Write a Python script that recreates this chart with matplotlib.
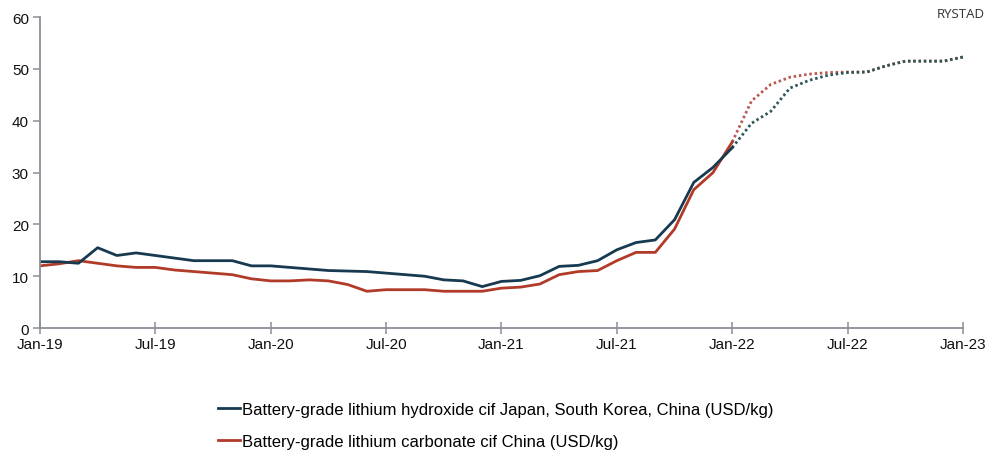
import matplotlib
matplotlib.use("Agg")
import matplotlib.pyplot as plt

plt.rcParams['font.family'] = ['Liberation Sans', 'DejaVu Sans']

# Month index 0 = Jan-19 ... 48 = Jan-23
tick_labels = ["Jan-19", "Jul-19", "Jan-20", "Jul-20", "Jan-21",
               "Jul-21", "Jan-22", "Jul-22", "Jan-23"]

# Historical prices, Jan-19 .. Jan-22 (USD/kg)
hydroxide_hist = [12.8, 12.8, 12.5, 15.5, 14.0, 14.5, 14.0, 13.5, 13.0, 13.0, 13.0, 12.0,
                  12.0, 11.7, 11.4, 11.1, 11.0, 10.9, 10.6, 10.3, 10.0, 9.3, 9.1, 8.0,
                  9.0, 9.2, 10.1, 11.9, 12.1, 13.0, 15.1, 16.5, 17.0, 20.9, 28.1, 31.0,
                  34.8]
carbonate_hist = [12.0, 12.4, 13.0, 12.5, 12.0, 11.7, 11.7, 11.2, 10.9, 10.6, 10.3, 9.5,
                  9.1, 9.1, 9.3, 9.1, 8.4, 7.1, 7.4, 7.4, 7.4, 7.1, 7.1, 7.1,
                  7.7, 7.9, 8.5, 10.3, 10.9, 11.1, 13.0, 14.6, 14.6, 19.1, 26.7, 30.0,
                  35.9]

# Forecast, Jan-22 .. Jan-23 (USD/kg)
hydroxide_fc = [34.8, 39.5, 41.8, 46.3, 47.8, 48.8, 49.3, 49.4, 50.6, 51.5, 51.5, 51.5, 52.3]
carbonate_fc = [35.9, 43.8, 47.0, 48.4, 49.0, 49.3, 49.4, 49.4, 50.6, 51.5, 51.5, 51.5, 52.3]

hist_x = list(range(len(hydroxide_hist)))
fc_x = list(range(len(hydroxide_hist) - 1, len(hydroxide_hist) - 1 + len(hydroxide_fc)))

blue = "#173a50"
red = "#b13b28"
blue_dot = "#2c5658"
red_dot = "#b85a52"
axis_grey = "#8a9096"

fig = plt.figure(figsize=(9.89, 4.52), dpi=100)
ax = fig.add_axes([0.0404, 0.272, 0.9333, 0.688])

dots = (0, (0.9, 1.0))
ax.plot(fc_x, carbonate_fc, color=red_dot, lw=2.0, linestyle=dots)
ax.plot(fc_x, hydroxide_fc, color=blue_dot, lw=2.0, linestyle=dots)
l2, = ax.plot(hist_x, carbonate_hist, color=red, lw=2.0, solid_joinstyle='round')
l1, = ax.plot(hist_x, hydroxide_hist, color=blue, lw=2.0, solid_joinstyle='round')

ax.set_xlim(0, 48)
ax.set_ylim(0, 60)
ax.set_xticks(range(0, 49, 6))
ax.set_xticklabels(tick_labels)
ax.set_yticks(range(0, 61, 10))

for side in ("top", "right"):
    ax.spines[side].set_visible(False)
for side in ("left", "bottom"):
    ax.spines[side].set_color(axis_grey)
    ax.spines[side].set_linewidth(1.3)

ax.tick_params(axis='x', direction='inout', length=9, width=1.1, color=axis_grey,
               labelsize=11, pad=2, labelcolor="#111111")
ax.tick_params(axis='y', direction='out', length=5, width=1.1, color=axis_grey,
               labelsize=11, pad=3, labelcolor="#111111")

fig.text(0.996, 0.968, "RYSTAD", ha='right', va='center', fontsize=9.5,
         color="#333333", family=['Open Sans', 'DejaVu Sans'])

fig.legend([l1, l2],
           ["Battery-grade lithium hydroxide cif Japan, South Korea, China (USD/kg)",
            "Battery-grade lithium carbonate cif China (USD/kg)"],
           loc='upper left', bbox_to_anchor=(0.2204, 0.108), bbox_transform=fig.transFigure,
           frameon=False, fontsize=12, handlelength=1.35, handletextpad=0.1,
           labelspacing=1.0, borderaxespad=0, borderpad=0)

fig.savefig("out.png", dpi=100)
